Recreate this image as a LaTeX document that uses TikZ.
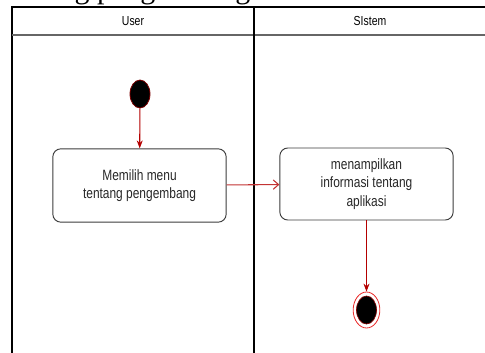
\documentclass[tikz,border=0pt]{standalone}
\usepackage{fontspec}
\usetikzlibrary{arrows.meta,shapes.geometric}
\newfontfamily\narrowsans{Liberation Sans}[FakeStretch=0.8]
\newfontfamily\captionserif{Liberation Serif}
\definecolor{flowred}{RGB}{180,0,0}
\definecolor{ringred}{RGB}{235,40,40}
\definecolor{boxgray}{RGB}{60,60,60}
\definecolor{txtgray}{RGB}{40,40,40}
\tikzset{
  lane/.style={draw=black, line width=1pt},
  lanediv/.style={draw=black, line width=1.6pt},
  hdrsep/.style={draw=black!60, line width=1.1pt},
  hdrtext/.style={font=\narrowsans\fontsize{9.8pt}{11pt}\selectfont, text=black},
  actbox/.style={draw=boxgray, line width=0.7pt, rounded corners=6pt, align=center,
    font=\narrowsans\fontsize{11.2pt}{14pt}\selectfont, text=txtgray, inner sep=0pt},
  flow/.style={draw=flowred, line width=0.8pt, -{Stealth[length=6pt,width=4.5pt]}},
  flowh/.style={draw=flowred!80, line width=0.8pt, -{Straight Barb[length=4pt,width=7pt]}},
}
\begin{document}
\begin{tikzpicture}[x=0.75pt,y=-0.75pt]
\useasboundingbox (0,0) rectangle (485,353);
\fill[white] (0,0) rectangle (485,353);
\clip (0,0) rectangle (485,353);
% caption above the diagram, cut off by the picture's top edge as in the reference
\node[anchor=base west, inner sep=0pt, font=\captionserif\fontsize{22.5pt}{26pt}\selectfont] (cap) at (1,-1) {tentang pengembang};
% swimlanes
\draw[lane] (12,360) -- (12,7) -- (490,7);
\draw[hdrsep] (12,35) -- (490,35);
\draw[lanediv] (254,7) -- (254,360);
\node[hdrtext] (huser) at (133,21) {User};
\node[hdrtext] (hsys) at (370,21) {SIstem};
% start
\node[draw=flowred!70!black, fill=black, line width=0.6pt, ellipse, minimum width=15pt, minimum height=21pt, inner sep=0pt] (start) at (140,94) {};
% activities
\node[actbox, minimum width=130pt, minimum height=55pt] (a1) at (139.5,185.5) {Memilih menu\\tentang pengembang};
\node[actbox, minimum width=130pt, minimum height=54pt] (a2) at (366.5,184) {menampilkan\\informasi tentang\\aplikasi};
% end
\node[draw=ringred, line width=0.6pt, ellipse, minimum width=20pt, minimum height=27pt, inner sep=0pt] (end) at (366.5,310) {};
\node[fill=black, draw=flowred!70!black, line width=0.5pt, ellipse, minimum width=15pt, minimum height=21pt, inner sep=0pt] (endin) at (366.5,310) {};
% flows
\draw[flow] (start) -- (a1);
\draw[flowh] (a1) -- (a2);
\draw[flow] (a2) -- (end);
\end{tikzpicture}
\end{document}
